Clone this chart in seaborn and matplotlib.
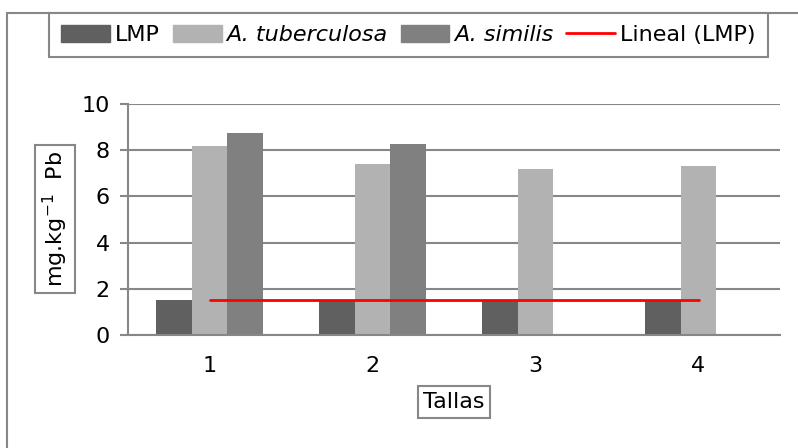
import numpy as np
import pandas as pd
import matplotlib
matplotlib.use('Agg')
import matplotlib.pyplot as plt
import seaborn as sns
from matplotlib.patches import Patch, Rectangle
from matplotlib.lines import Line2D

tallas = ['1', '2', '3', '4']
lmp = [1.5, 1.5, 1.5, 1.5]
a_tuberculosa = [8.2, 7.42, 7.2, 7.32]
a_similis = [8.74, 8.27, None, None]

especies = ['LMP', 'A. tuberculosa', 'A. similis']
colores = ['#606060', '#b2b2b2', '#808080']
gris = '#878787'

filas = []
for nombre, valores in zip(especies, [lmp, a_tuberculosa, a_similis]):
    for t, v in zip(tallas, valores):
        if v is not None:
            filas.append({'talla': t, 'especie': nombre, 'valor': v})
df = pd.DataFrame(filas)

sns.set_style('white')
plt.rcParams['font.family'] = ['DejaVu Sans']
plt.rcParams['text.color'] = 'black'
plt.rcParams['xtick.labelcolor'] = 'black'
plt.rcParams['ytick.labelcolor'] = 'black'
plt.rcParams['axes.labelcolor'] = 'black'

fig = plt.figure(figsize=(7.98, 4.48), dpi=100)
ax = fig.add_axes([128 / 798, 1 - 335 / 448, 652 / 798, 231 / 448])

sns.barplot(data=df, x='talla', y='valor', hue='especie', hue_order=especies,
            order=tallas, palette=colores, width=0.66, errorbar=None,
            linewidth=0, legend=False, ax=ax)

# linea de tendencia lineal del LMP
pos = np.arange(len(tallas))
coef = np.polyfit(pos, lmp, 1)
ax.plot(pos, np.polyval(coef, pos), color='red', lw=2, zorder=5)

ax.set_xlim(-0.5, len(tallas) - 0.5)
ax.set_ylim(0, 10)
ax.set_yticks([0, 2, 4, 6, 8, 10])
ax.set_xticks(pos)
ax.set_xticklabels(tallas)
ax.set_xticks(np.arange(-0.5, len(tallas)), minor=True)
ax.tick_params(axis='x', which='major', length=0, pad=15, labelsize=16)
ax.tick_params(axis='x', which='minor', length=7, width=1.5, color=gris, direction='out')
ax.tick_params(axis='y', length=6, width=1.5, color=gris, direction='out', pad=7, labelsize=16, left=True)
ax.yaxis.grid(True, color=gris, lw=1.5)
ax.set_axisbelow(True)
for lado in ['top', 'right']:
    ax.spines[lado].set_visible(False)
for lado in ['left', 'bottom']:
    ax.spines[lado].set_color(gris)
    ax.spines[lado].set_linewidth(1.5)

caja = dict(boxstyle='square,pad=0.25', fc='white', ec=gris, lw=1.5)
ax.set_ylabel('mg.kg$^{-1}$  Pb', fontsize=16, bbox=caja)
ax.yaxis.label.set(ha='center', va='center')
ax.yaxis.set_label_coords((55 - 128) / 652, (335 - 219) / 231)
ax.set_xlabel('Tallas', fontsize=16, bbox=caja)
ax.xaxis.label.set(ha='center', va='center')
ax.xaxis.set_label_coords(0.5, (335 - 402) / 231)

handles = [Patch(color=c) for c in colores]
handles.append(Line2D([], [], color='red', lw=2))
leg = fig.legend(handles, especies + ['Lineal (LMP)'], ncol=4, loc='upper left',
                 bbox_to_anchor=(49 / 798, 1 - 13 / 448), fontsize=16,
                 handlelength=2.2, handleheight=0.75, handletextpad=0.2,
                 columnspacing=0.6, borderpad=0.55, borderaxespad=0,
                 fancybox=False, framealpha=1)
leg.get_frame().set_edgecolor(gris)
leg.get_frame().set_linewidth(1.5)
leg.get_texts()[1].set_style('italic')
leg.get_texts()[2].set_style('italic')

# marco exterior del grafico
fig.patches.append(Rectangle((7 / 798, -0.2), 2, 1.2 - 13 / 448, transform=fig.transFigure,
                             fill=False, ec=gris, lw=1.5, zorder=0))

fig.savefig('out.png', dpi=100)
